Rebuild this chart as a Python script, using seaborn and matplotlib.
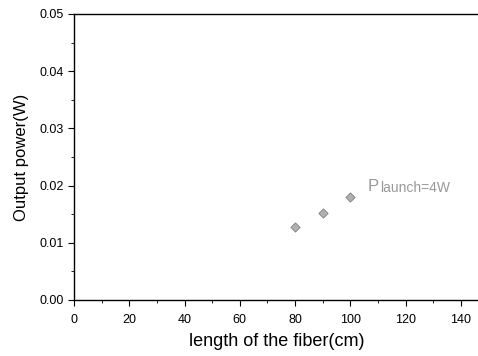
import matplotlib
matplotlib.use("Agg")
import matplotlib.pyplot as plt
import seaborn as sns
import pandas as pd
from matplotlib.ticker import MultipleLocator

length_cm = [80, 90, 100]
output_w = [0.0128, 0.0152, 0.0180]
x_ticks = [0, 20, 40, 60, 80, 100, 120, 140]
y_ticks = [0.00, 0.01, 0.02, 0.03, 0.04, 0.05]
annotation_main = "P"
annotation_sub = "launch=4W"

df = pd.DataFrame({"length": length_cm, "power": output_w})

sns.set_style("ticks")
plt.rcParams['font.family'] = ['Liberation Sans', 'DejaVu Sans']
plt.rcParams['text.color'] = 'black'
plt.rcParams['axes.labelcolor'] = 'black'

fig = plt.figure(figsize=(4.78, 3.56), dpi=100)
ax = fig.add_axes([74/478, 56/356, 1 - 74/478 + 0.002, (300-14)/356])

sns.scatterplot(data=df, x="length", y="power", ax=ax, marker="D", s=22,
                color="#b0b0b0", edgecolor="#808080", linewidth=0.6, legend=False)

ax.text(106.3, 0.0199, annotation_main, fontsize=12, color="#999999", va="center", ha="left")
ax.text(110.6, 0.0196, annotation_sub, fontsize=10, color="#999999", va="center", ha="left")

ax.set_xlim(0, 146.5)
ax.set_ylim(0, 0.05)
ax.set_xticks(x_ticks)
ax.set_yticks(y_ticks)
ax.set_xticklabels([str(t) for t in x_ticks])
ax.set_yticklabels([f"{t:.2f}" for t in y_ticks])
ax.xaxis.set_minor_locator(MultipleLocator(10))
ax.yaxis.set_minor_locator(MultipleLocator(0.005))
ax.tick_params(which="major", direction="out", length=4, width=0.8, labelsize=9, colors="black")
ax.tick_params(which="minor", direction="out", length=2, width=0.6, colors="black")
ax.tick_params(axis="x", pad=6)

for s in ["left", "bottom", "top"]:
    ax.spines[s].set_visible(True)
    ax.spines[s].set_linewidth(1.0)
    ax.spines[s].set_color("black")
ax.spines["right"].set_visible(False)

ax.set_xlabel("length of the fiber(cm)", fontsize=13, labelpad=5)
ax.set_ylabel("Output power(W)", fontsize=12, labelpad=7)

fig.savefig("out.png", dpi=100)
